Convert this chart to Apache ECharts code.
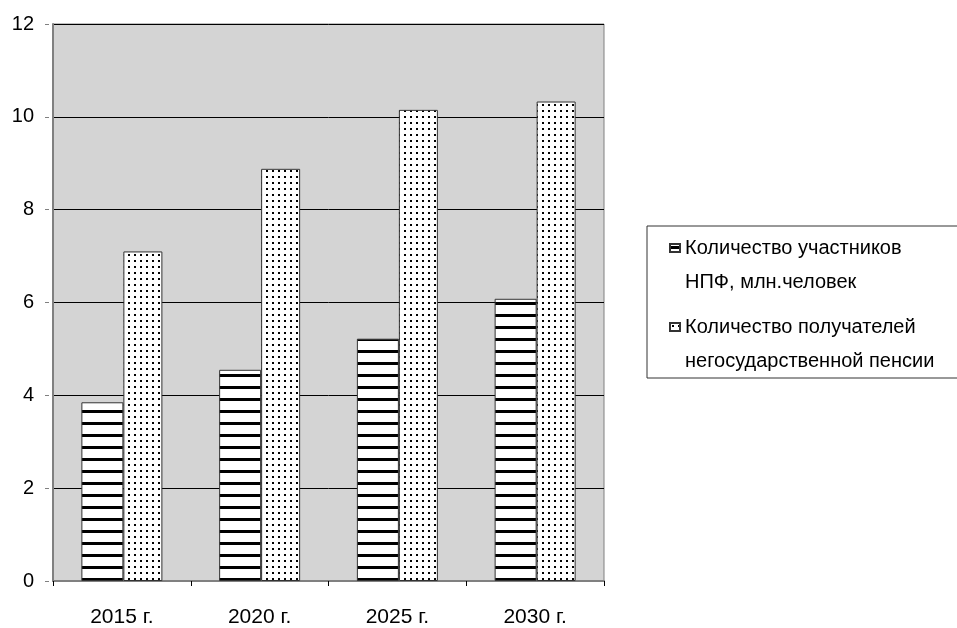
<!DOCTYPE html>
<html><head><meta charset="utf-8">
<script src="https://cdn.jsdelivr.net/npm/echarts@6/dist/echarts.min.js"></script>
<style>html,body{margin:0;padding:0;background:#fff}#c{width:957px;height:628px}</style>
</head><body><div id="c"></div>
<script>
const categories = ['2015 г.', '2020 г.', '2025 г.', '2030 г.'];
const participants = [3.85, 4.55, 5.22, 6.08];
const recipients = [7.1, 8.88, 10.15, 10.33];
const seriesNames = ['Количество участников\nНПФ, млн.человек', 'Количество получателей\nнегосударственной пенсии'];
const yTicks = [0, 2, 4, 6, 8, 10, 12];

function stripes() {
  const c = document.createElement('canvas'); c.width = 8; c.height = 12;
  const g = c.getContext('2d');
  g.fillStyle = '#fff'; g.fillRect(0, 0, 8, 12);
  g.fillStyle = '#000'; g.fillRect(0, 2, 8, 3);
  return c;
}
function dots() {
  const c = document.createElement('canvas'); c.width = 6; c.height = 6;
  const g = c.getContext('2d');
  g.fillStyle = '#fff'; g.fillRect(0, 0, 6, 6);
  g.fillStyle = '#000'; g.fillRect(2, 2, 2, 2);
  return c;
}
// square sits at the top of a taller (invisible) icon box so it aligns with the first text line
const legendIcon = 'path://M0,0L10,0L10,8L0,8Z M0,42';
const yMin = yTicks[0], yMax = yTicks[yTicks.length - 1];

const chart = echarts.init(document.getElementById('c'));
chart.setOption({
  animation: false,
  textStyle: { fontFamily: 'Liberation Sans, Arial, sans-serif' },
  grid: { left: 53, top: 24, right: 353, bottom: 46, show: true, backgroundColor: '#d4d4d4', borderColor: '#808080', borderWidth: 1 },
  legend: {
    orient: 'vertical', left: 647, top: 226,
    itemWidth: 10, itemHeight: 42, itemGap: 11,
    icon: legendIcon,
    padding: [5, 40, 0, 22],
    backgroundColor: '#fff', borderColor: '#333', borderWidth: 1,
    textStyle: { fontSize: 20, lineHeight: 34, color: '#000', fontFamily: 'Liberation Sans, Arial, sans-serif' },
    data: seriesNames
  },
  xAxis: [{
    type: 'category', data: categories,
    axisLine: { lineStyle: { color: '#808080', width: 2 } },
    axisTick: { show: false },
    axisLabel: { fontSize: 21, color: '#000', margin: 26 }
  }, {
    type: 'category', data: categories, position: 'bottom', offset: 3,
    axisLine: { show: false },
    axisTick: { show: true, length: 5, lineStyle: { color: '#000' } },
    axisLabel: { show: false }
  }],
  yAxis: [{
    type: 'value', min: yMin, max: yMax, interval: 2,
    axisLine: { show: true, lineStyle: { color: '#808080', width: 2 } },
    axisTick: { show: false },
    axisLabel: { fontSize: 20, color: '#000', margin: 19 },
    splitLine: { lineStyle: { color: '#000', width: 1 } }
  }, {
    type: 'value', min: yMin, max: yMax, interval: 2, position: 'left', offset: 4,
    axisLine: { show: false },
    axisTick: { show: true, length: 4, lineStyle: { color: '#808080' } },
    axisLabel: { show: false },
    splitLine: { show: false }
  }],
  series: [
    { name: seriesNames[0], type: 'bar', data: participants, barWidth: 42, barGap: '0%',
      itemStyle: { color: { image: stripes(), repeat: 'repeat' }, borderColor: '#333', borderWidth: 1 } },
    { name: seriesNames[1], type: 'bar', data: recipients, barWidth: 39,
      itemStyle: { color: { image: dots(), repeat: 'repeat' }, borderColor: '#333', borderWidth: 1 } }
  ]
});
</script></body></html>
